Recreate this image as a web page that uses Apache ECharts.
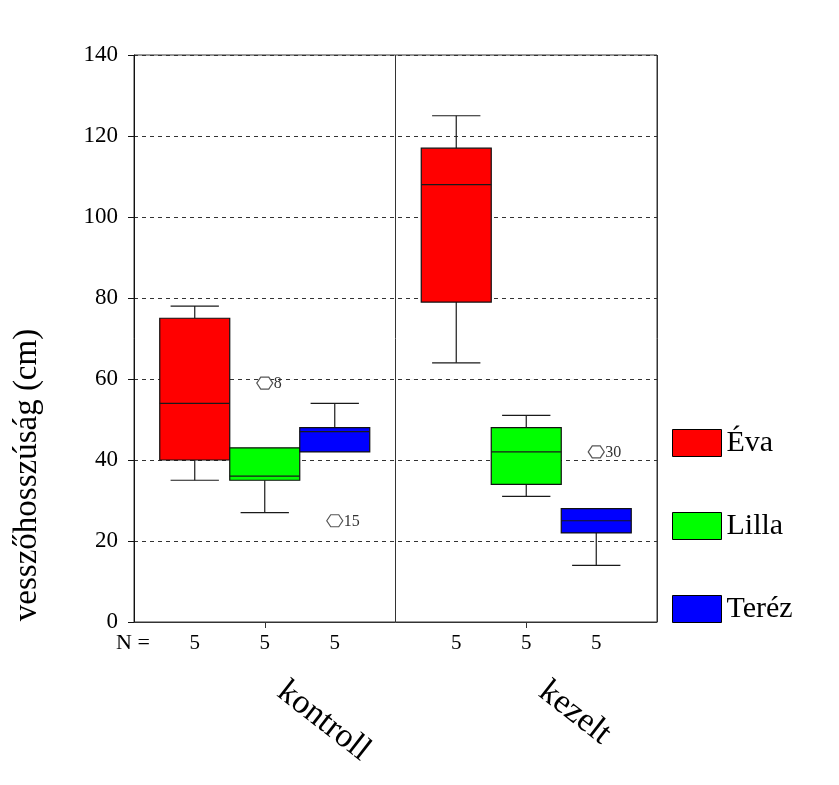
<!DOCTYPE html>
<html><head><meta charset="utf-8">
<script src="https://cdn.jsdelivr.net/npm/echarts@6/dist/echarts.min.js"></script>
<style>html,body{margin:0;padding:0;background:#fff}#c{width:839px;height:785px}</style>
</head><body><div id="c"></div><script>
// ---- data ----
const categories = ['kontroll', 'kezelt'];
const personNames = ['Éva', 'Lilla', 'Teréz'];
const personColors = ['#ff0000', '#00ff00', '#0000ff'];
// [categoryIndex, min, Q1, median, Q3, max]
const evaBoxes = [[0, 35, 40, 54, 75, 78], [1, 64, 79, 108, 117, 125]];
const lillaBoxes = [[0, 27, 35, 36, 43, 43], [1, 31, 34, 42, 48, 51]];
const terezBoxes = [[0, 42, 42, 47, 48, 54], [1, 14, 22, 25, 28, 28]];
// N per box
const evaCounts = [5, 5];
const lillaCounts = [5, 5];
const terezCounts = [5, 5];
// outliers [categoryIndex, value] and their case labels
const lillaOutliers = [[0, 59]];
const lillaOutlierLabels = ['8'];
const terezOutliers = [[0, 25], [1, 42]];
const terezOutlierLabels = ['15', '30'];
// y axis ticks
const yMin = 0, yMax = 140, yStep = 20;
const yAxisTitle = 'vesszőhosszúság (cm)';
const nLabel = 'N =';

// ---- layout constants ----
const SERIF = '"Liberation Serif", "Times New Roman", serif';
const BOX_FRAC = 0.2677;   // box width as fraction of category band
const CAP_FRAC = 0.69;     // whisker cap width relative to box

function boxRenderer(slot, counts) {
  return function (params, api) {
    const cat = api.value(0);
    const band = api.size([1, 0])[0];
    const w = band * BOX_FRAC;
    const cx = api.coord([cat, 0])[0] + (slot - 1) * w;
    const Y = v => api.coord([cat, v])[1];
    const mn = api.value(1), q1 = api.value(2), md = api.value(3), q3 = api.value(4), mx = api.value(5);
    const ch = w * CAP_FRAC / 2;
    const ls = { stroke: '#1a1a1a', lineWidth: 1.2 };
    const kids = [];
    if (mx > q3) {
      kids.push({ type: 'line', shape: { x1: cx, y1: Y(q3), x2: cx, y2: Y(mx) }, style: ls });
      kids.push({ type: 'line', shape: { x1: cx - ch, y1: Y(mx), x2: cx + ch, y2: Y(mx) }, style: ls });
    }
    if (mn < q1) {
      kids.push({ type: 'line', shape: { x1: cx, y1: Y(q1), x2: cx, y2: Y(mn) }, style: ls });
      kids.push({ type: 'line', shape: { x1: cx - ch, y1: Y(mn), x2: cx + ch, y2: Y(mn) }, style: ls });
    }
    kids.push({ type: 'rect', shape: { x: cx - w / 2, y: Y(q3), width: w, height: Y(q1) - Y(q3) },
      style: { fill: api.visual('color'), stroke: '#111', lineWidth: 1.2 } });
    kids.push({ type: 'line', shape: { x1: cx - w / 2, y1: Y(md), x2: cx + w / 2, y2: Y(md) }, style: ls });
    const cs = params.coordSys;
    kids.push({ type: 'text', style: { text: String(counts[params.dataIndex]), x: cx, y: cs.y + cs.height + 21,
      align: 'center', verticalAlign: 'middle', fontSize: 21, fontFamily: SERIF, fill: '#000' } });
    return { type: 'group', children: kids };
  };
}

function outlierRenderer(slot, labels) {
  return function (params, api) {
    const cat = api.value(0);
    const band = api.size([1, 0])[0];
    const w = band * BOX_FRAC;
    const p = api.coord([cat, api.value(1)]);
    const cx = p[0] + (slot - 1) * w, cy = p[1];
    const rx = 8, ry = 6;
    return { type: 'group', children: [
      { type: 'polygon', shape: { points: [[cx - rx, cy], [cx - rx / 2, cy - ry], [cx + rx / 2, cy - ry], [cx + rx, cy], [cx + rx / 2, cy + ry], [cx - rx / 2, cy + ry]] },
        style: { fill: '#fff', stroke: '#555', lineWidth: 1.2 } },
      { type: 'text', style: { text: labels[params.dataIndex], x: cx + rx + 1, y: cy + 1, align: 'left', verticalAlign: 'middle',
        fontSize: 16, fontFamily: SERIF, fill: '#333' } }
    ] };
  };
}

const boxSets = [evaBoxes, lillaBoxes, terezBoxes];
const countSets = [evaCounts, lillaCounts, terezCounts];
const series = personNames.map((name, i) => ({
  name: name, type: 'custom', data: boxSets[i],
  encode: { x: 0, y: [1, 2, 3, 4, 5] },
  itemStyle: { color: personColors[i] },
  renderItem: boxRenderer(i, countSets[i]),
  z: 3
}));
series.push({ name: 'outLilla', type: 'custom', data: lillaOutliers, encode: { x: 0, y: 1 },
  renderItem: outlierRenderer(1, lillaOutlierLabels), z: 4 });
series.push({ name: 'outTerez', type: 'custom', data: terezOutliers, encode: { x: 0, y: 1 },
  renderItem: outlierRenderer(2, terezOutlierLabels), z: 4 });

const chart = echarts.init(document.getElementById('c'), null, { renderer: 'canvas' });
chart.setOption({
  animation: false,
  backgroundColor: '#fff',
  grid: { left: 134, right: 182, top: 55, bottom: 163, show: true, borderColor: '#333', borderWidth: 1,
    outerBoundsMode: 'none', containLabel: false },
  legend: {
    data: personNames, orient: 'vertical', left: 672, top: 428, padding: 0,
    itemWidth: 49, itemHeight: 27, itemGap: 53, icon: 'rect',
    itemStyle: { borderColor: '#000', borderWidth: 1 },
    textStyle: { fontFamily: SERIF, fontSize: 30, color: '#000' }
  },
  xAxis: {
    type: 'category', data: categories, boundaryGap: true,
    axisLine: { show: true, lineStyle: { color: '#333', width: 1 } },
    axisTick: { show: true, alignWithLabel: true, length: 6, lineStyle: { color: '#333' } },
    splitLine: { show: true, lineStyle: { color: '#333', width: 1, type: 'solid' } },
    axisLabel: { rotate: -38, margin: 53, padding: [0, 0, 0, 21], fontFamily: SERIF, fontSize: 34, color: '#000' }
  },
  yAxis: {
    type: 'value', min: yMin, max: yMax, interval: yStep,
    axisLine: { show: true, lineStyle: { color: '#111', width: 1 } },
    axisTick: { show: true, length: 6, lineStyle: { color: '#111' } },
    splitLine: { show: true, lineStyle: { color: '#333', width: 1, type: [4, 4] } },
    axisLabel: { margin: 16, fontFamily: SERIF, fontSize: 23, color: '#000' }
  },
  graphic: [
    { type: 'text', x: 27, y: 475, rotation: Math.PI / 2,
      style: { text: yAxisTitle, align: 'center', verticalAlign: 'middle', fontFamily: SERIF, fontSize: 33, fill: '#000' } },
    { type: 'text', x: 133, y: 643,
      style: { text: nLabel, align: 'center', verticalAlign: 'middle', fontFamily: SERIF, fontSize: 22, fill: '#000' } }
  ],
  series: series
});
</script></body></html>
